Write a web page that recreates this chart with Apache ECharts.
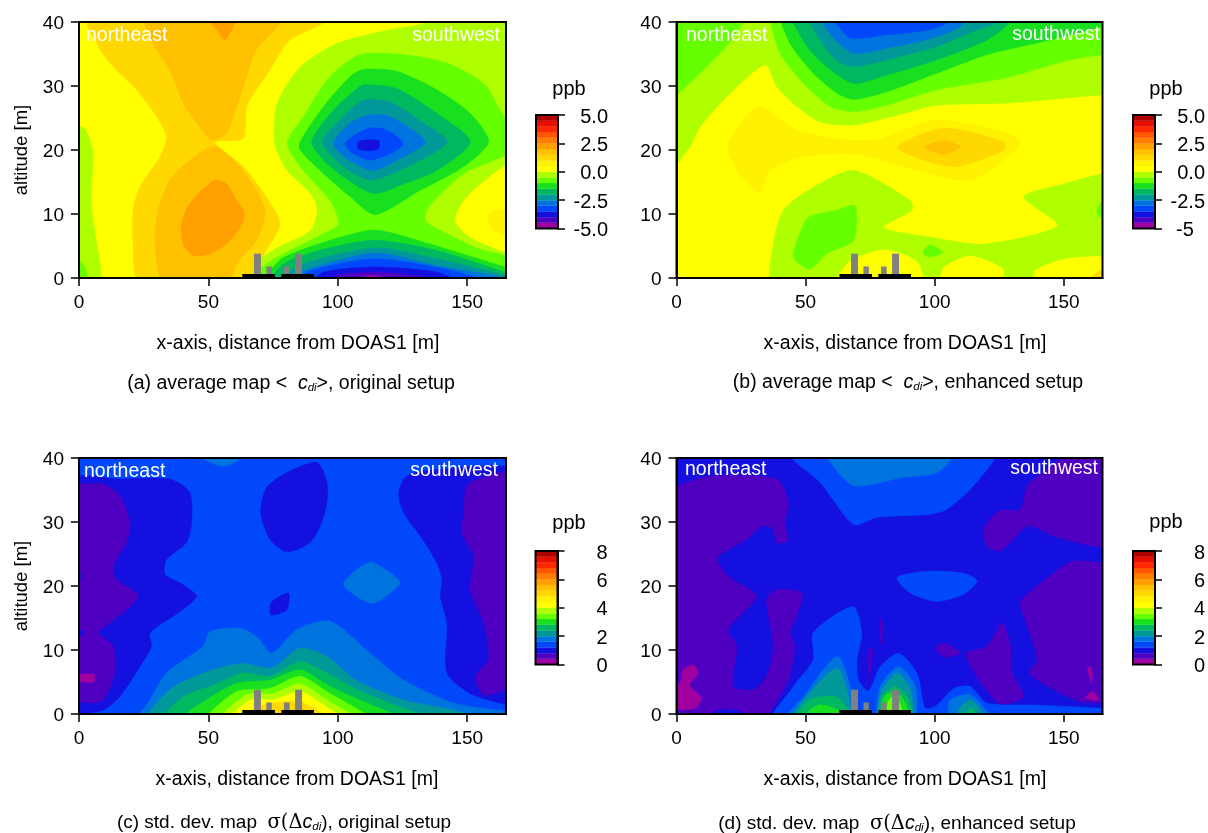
<!DOCTYPE html>
<html><head><meta charset="utf-8">
<style>html,body{margin:0;padding:0;background:#fff}#c{width:1208px;height:833px}</style>
<script src="https://cdn.jsdelivr.net/npm/echarts@6/dist/echarts.min.js"></script></head>
<body><div id="c"></div>
<script>
const palette = ['#a000a0','#5000c0','#1410e0','#0048fa','#0074de','#009898','#00b860','#18e020','#66ff00','#b0ff00','#ffff00','#fff200','#ffd800','#ffc000','#ffa000','#ff8000','#ff5800','#ff2800','#e81000','#b00000'];
const xTicks = [0,50,100,150];
const yTicks = [0,10,20,30,40];
const avgTicks = [-5,-2.5,0,2.5,5];
const avgLabelsA = ['-5.0','-2.5','0.0','2.5','5.0'];
const avgLabelsB = ['-5\u00A0\u00A0','-2.5','0.0','2.5','5.0'];
const stdTicks = [0,2,4,6,8];
const stdLabels = ['0','2','4','6','8'];
const buildingBases = [[63.1,75.7,0.63],[78.2,90.8,0.63]];
const buildingStacks = [[67.6,70.3,3.8],[72.4,74.5,1.8],[79.2,81.4,1.8],[83.5,86.2,3.8]];

// each contour band: [lower level of the band (ppb), outline as [x m, altitude m]]
const mapA = [
[-0.5,[[-3,-3],[170,-3],[170,43],[-3,43]]],
[0,[[-3,43],[-3,24.8],[2.8,23.1],[5.7,19.4],[4.8,12.7],[6.1,7.9],[8,3.2],[10.8,-1],[59.6,-1],[68.6,2.7],[79,5.3],[89.3,7.4],[91.9,10.6],[89.3,13.2],[80.3,16.8],[75.4,21],[76.4,27.3],[85.4,33],[99.6,36.7],[119,38.8],[138.3,40.4],[138,43]]],
[-1,[[-3,3.5],[2.2,1.7],[3.1,-1],[-3,-1]]],
[1,[[1.5,43],[7.4,36.2],[13.2,33],[22.2,29.4],[30,25.2],[33.8,22],[31.2,18.9],[23.5,14.2],[20.9,10.6],[20.9,5.3],[23.5,-1],[62.2,-1],[73.8,5.3],[77.7,8.5],[72.5,12.6],[63.5,17.4],[52.5,21.2],[63.5,21.8],[64.8,26.8],[73.8,32.5],[81.5,37.2],[95.7,40.2],[95,43]]],
[1.5,[[25,43],[26,38.8],[30,35.7],[35.1,32.5],[40.3,27.3],[46.7,23.6],[51.2,21.5],[57,22.6],[59.6,25.2],[64.8,31.5],[68.6,35.7],[79,40.4],[79,43]]],
[1.5,[[52.5,20.6],[62.2,17.4],[70,12.7],[71.9,10],[68.6,5.9],[60.9,2.2],[57,-1],[33,-1],[29.3,5.3],[30.6,10.6],[35.1,15.3],[42.8,18.4]]],
[2,[[51.9,15.2],[57,14.7],[60.9,12.1],[64.1,10],[62.2,7.9],[57,5.3],[50.6,3.8],[44.1,3.5],[40.3,5.3],[39.6,8.5],[42.8,11.6]]],
[2,[[50,43],[49.9,40.5],[53.2,38.8],[56.4,37.2],[60.9,40.5],[61,43]]],
[0,[[170,17.6],[165,17.6],[150,12.7],[145.4,9],[151.2,6.4],[165,4],[170,4]]],
[0.5,[[170,11],[158,10],[160,7.5],[170,6.5]]],
[-1,[[170,20.6],[162.8,26.2],[156.4,30.4],[142.2,33.6],[125.4,34.9],[108.6,34.9],[97,31.5],[86.7,25.2],[80.5,21],[86.7,16.8],[97,12.1],[100.3,8.5],[94.5,6.9],[79,3.8],[72.5,2.2],[64.8,-1],[170,-1],[170,2.7],[155,4.5],[142.2,6.9],[133.8,9],[135.1,11.1],[148.6,16.3]]],
[-1.5,[[85.4,21.3],[94.5,26.8],[104.8,31.5],[110,32.6],[122.8,32.3],[138.3,29.4],[151.2,25.7],[158.3,21.3],[148.6,17.4],[131.9,13.7],[114.5,9.9],[104.8,12.7],[94.5,16.3],[85.4,20]]],
[-2,[[89.9,21.3],[98.3,26.2],[107.4,29.6],[110,30.2],[122.8,29.6],[138.3,25.7],[151.2,21.3],[138.3,16.8],[125.4,14.7],[113.8,13.2],[102.2,15.8],[94.5,18.4]]],
[-2.5,[[94.2,21.3],[102.2,25.2],[110,27.8],[120.3,27.5],[133.2,24.2],[142.2,21.3],[131.9,18.4],[113.2,15.3],[102.2,17.4]]],
[-3,[[98.3,21],[104.8,24.2],[112.5,25.5],[120.3,25.2],[133.8,21.3],[122.8,18.4],[113.2,16.8],[103.5,18.7]]],
[-3.5,[[102.8,21],[108.6,22.8],[113.2,23.5],[119,23.1],[125.4,21],[120.3,19.4],[112.5,18.4],[106,19.4]]],
[-4,[[108,21.3],[115.7,21.5],[115.7,20.2],[111.9,19.9],[108,20.2]]],
[-1.5,[[68.6,-1],[72.5,0.6],[79,3.2],[97,5.9],[114.5,7.5],[135.7,5.3],[165,1.7],[170,1.4],[170,-1]]],
[-2,[[74,-1],[79,2.2],[94.5,4.5],[114.5,5.9],[138.3,4.3],[165,0.9],[170,0.6],[170,-1]]],
[-2.5,[[76.4,-1],[86.7,2.2],[114.5,4.7],[138.3,3],[165,0.4],[170,0],[170,-1]]],
[-3,[[79,-1],[86.7,1.1],[114.5,3.9],[138.3,1.9],[164,0],[164,-1]]],
[-3.5,[[82.8,-1],[89.3,1.1],[114.5,3],[144.8,1.1],[159,-1]]],
[-4,[[89.3,-1],[94.5,0.9],[114.5,1.7],[138.3,0.9],[148.6,-1]]],
[-4.5,[[94.5,-1],[99.6,0.4],[114.5,0.9],[135.7,0],[136,-1]]],
[-5,[[103.5,-1],[112.5,0.4],[125.4,-1]]]
];
const mapB = [
[0,[[-3,-3],[170,-3],[170,43],[-3,43]]],
[0.5,[[20,21],[32.3,26.8],[46.6,23.1],[75,21.5],[100.9,24.7],[133.2,21.5],[113.8,15.3],[88,17.4],[68.6,19.4],[49.2,18.9],[36.2,16.8],[32.3,13.2],[23.3,16.8]]],
[-0.5,[[-3,17],[5.2,20.5],[9.1,23.6],[19.4,28.3],[34.3,33.3],[38.8,29.9],[46.6,26.8],[55.6,24.4],[68.6,23.9],[88,25.7],[100.9,27],[126.8,27.3],[165,28.6],[170,28.6],[170,43],[-3,43]]],
[-1,[[-3,28.1],[7.8,31.5],[16.8,35.1],[21.3,37.2],[26.5,40.5],[26,43],[-3,43]]],
[-1,[[36.2,40.5],[40.1,35.1],[49.2,30.4],[59.5,26.8],[68.6,26],[81.5,27],[100.9,29.4],[126.8,31.2],[152.6,34.1],[165.2,34.9],[170,35],[170,43],[36,43]]],
[-1.5,[[40.1,40.5],[44.6,36.2],[53,32],[62,28.9],[68.6,27.9],[81.5,29.1],[100.9,32],[120.3,34.9],[139.7,36.7],[165,39.3],[170,40],[170,43],[40,43]]],
[-2,[[44.6,40.5],[50.5,36.2],[58.2,33],[68.6,30.4],[81.5,31.7],[100.9,34.1],[120.3,37.2],[129.4,40.2],[129,43],[44,43]]],
[-2.5,[[51.7,40.2],[55.6,37.2],[62,34],[68.6,33],[81.5,34.1],[100.9,36.2],[116.4,38.8],[124.2,40],[124,43],[52,43]]],
[-3,[[56.3,40.2],[60.8,37.5],[68.6,35.1],[81.5,35.9],[100.9,37.7],[111.3,39.8],[111,43],[56,43]]],
[-3.5,[[61.5,40.2],[67.3,37.5],[81.5,38],[98.3,38.8],[104.8,40],[105,43],[61,43]]],
[-0.5,[[36.9,-1],[37.5,5.3],[41.4,10.6],[53,14.2],[68.6,16.8],[90.6,12.1],[91.2,10.6],[80.2,7.9],[98.3,6.4],[119,5.3],[147.5,8.2],[134.5,12.7],[150,14.7],[165,16.3],[170,16.3],[170,3.5],[165,3.5],[150,3],[138.4,1.1],[138.4,-1],[126.8,-1],[126.8,1.4],[113.8,3.5],[103.5,1.7],[100.9,-1],[97,-1],[93.1,2.7],[80.2,4.5],[67.3,2.7],[62.7,0.6],[59.5,-1]]],
[-1,[[51.1,9.5],[62.1,10.6],[69.2,11.3],[68.6,5.9],[58.2,3.8],[51.7,1.4],[45.3,3.2],[47.2,6.4]]],
[-1,[[98.3,5.2],[103.2,4],[97.7,3.3],[95.3,4]]],
[-1,[[170,11.9],[165,11.9],[162.8,10.5],[165,9.2],[170,9.2]]],
[1,[[85.4,20.5],[103.5,23.4],[126.8,21.3],[126.8,20],[108.6,17.4],[95.7,18.4]]],
[1.5,[[95.7,20.5],[103.5,21.4],[110,20.5],[103.5,19.3]]],
[1,[[165,1.4],[170,1.4],[170,-1],[158,-1]]]
];
const mapC = [
[1.2,[[-3,-3],[170,-3],[170,43],[-3,43]]],
[0.8,[[-3,36.5],[15.7,36.7],[35.1,36.7],[42.8,34.6],[43.5,29.9],[41.5,26.8],[33.8,24.1],[33.2,21.8],[39,20.5],[45.4,18.4],[39,16],[27.4,12.7],[28,10.6],[23.5,7.4],[15.7,2.7],[9.3,0.6],[0,0.1],[-3,0]]],
[0.4,[[-3,36.2],[0,36],[9.3,35.9],[15.7,34.1],[19.6,29.9],[18.3,26.8],[13.8,23.6],[13.8,21.3],[22.8,18.4],[11.9,14.2],[7.4,12.7],[13.2,10.6],[13.8,6.4],[9.3,2.2],[4.1,1.7],[0,1.9],[-3,1.9]]],
[0.8,[[-2,23.5],[0.8,21.5],[-2,19.9]]],
[0.8,[[-2,13.5],[2,12.7],[-2,11.8]]],
[0,[[-2,6],[5.7,6.2],[5.7,5],[-2,5.3]]],
[0.8,[[91.9,39.3],[95.8,36.2],[95.8,33],[93.2,29.4],[89.3,26.8],[80.3,25.3],[73.8,27.3],[70.2,31.5],[72.5,35.4],[80.3,37.7]]],
[0.8,[[80.9,18.9],[80.3,16.3],[74.2,15.5],[74.2,17.4]]],
[0.8,[[170,37.5],[138.3,38.2],[126.7,37.2],[123.5,34.6],[125.4,31.5],[131.9,27.8],[138.3,23.6],[140.3,21],[139.7,18.4],[142.2,14.2],[142.2,6.4],[151.2,3.2],[162.8,1.7],[170,1.5]]],
[0.4,[[170,37.7],[160.3,37.5],[150,35.7],[148.7,31.5],[148,28.3],[152.5,24.7],[151.2,19.4],[156.4,14.2],[158.3,8.5],[153.2,5.9],[156.4,3],[165,3.8],[170,3.8]]],
[1.6,[[46,40.5],[55.7,38.7],[64.1,40.5],[64,43],[46,43]]],
[1.6,[[113.2,23.7],[123.5,21],[123.5,20],[113.2,17.3],[102.2,20.2],[107.4,22.6]]],
[1.6,[[22.2,-1],[26.7,1.7],[33.8,6.4],[48,10.6],[50.6,12.9],[62.2,13.4],[68.6,12.1],[74.5,9.5],[84.1,13.2],[97,14.5],[112.5,9.5],[125.4,5.3],[144.8,1.7],[165,0.4],[170,0.2],[170,-1]]],
[2,[[26.7,-1],[35.1,3.8],[48,6.4],[62.8,7.9],[74.5,7.2],[85.4,10.3],[95.8,9],[106.9,5.3],[125.4,2.2],[144.8,0.6],[157.7,-1]]],
[2.4,[[32.5,-1],[40.3,2.7],[51.9,4.5],[63.5,6.4],[73.8,5.9],[85.4,8.2],[95.8,6.4],[107.4,3.8],[125.4,0.9],[138.3,-1]]],
[2.8,[[39,-1],[48,1.9],[60.9,4.8],[73.8,5.3],[85.4,6.9],[97,4.3],[110,1.9],[125.4,-1]]],
[3.2,[[49.3,-1],[60.9,3.5],[73.8,4],[85.4,5.9],[95.8,3.5],[112.5,-1]]],
[3.6,[[54.5,-1],[64.8,3],[75.1,3.2],[85.4,4.7],[95.8,2.2],[107.4,-1]]],
[4,[[58.3,-1],[66,2.2],[75.1,2.2],[85.4,3.5],[94.5,1.4],[102.2,-1]]],
[4.8,[[62.2,-1],[71.2,1.4],[85.4,1.9],[97,-1]]],
[5.2,[[75,-1],[85.4,0.9],[91,-1]]]
];
const mapD = [
[0.8,[[-3,-3],[170,-3],[170,43],[-3,43]]],
[1.2,[[43.3,40.5],[55.6,36.2],[68.6,29.6],[77.6,30.7],[98.3,31.2],[104.8,32],[113.8,35.1],[124.2,40.5],[124,43],[43,43]]],
[1.6,[[57.6,40.5],[68.6,35.7],[88,37],[100.9,37.7],[107.4,40.5],[107,43],[57,43]]],
[1.2,[[85.4,21.3],[97,22.3],[111.2,22],[116.4,20.8],[111.2,18.7],[100.9,17.6],[90.6,18.9]]],
[1.2,[[37.5,-1],[45.3,4.3],[53,8.5],[53,12.7],[68.3,16.8],[71.8,12.7],[69.9,8.5],[70.5,5.3],[74.4,3.6],[78.9,7.4],[86,9.5],[93.1,6.4],[96.4,0.9],[100.9,1.4],[107.4,4],[113.8,4.3],[120.3,1.7],[139.7,1.4],[165,0.9],[170,0.9],[170,-1]]],
[1.6,[[42,-1],[49.2,2.7],[62.1,9],[67.3,4.3],[68,-1]]],
[1.6,[[78.3,-1],[78.9,4.3],[86,7.4],[92.5,4.3],[91.9,-1]]],
[1.6,[[106,-1],[106.1,2.2],[113.8,3],[120,0.5],[122,-1]]],
[2,[[45,-1],[49.2,2.2],[62.1,7.2],[66.6,2.7],[66.6,-1]]],
[2,[[78.9,-1],[79,3.2],[85.4,6.4],[90.6,3.8],[91,-1]]],
[2,[[108,-1],[110,1.1],[113.8,2.2],[118,0.6],[119,-1]]],
[2.4,[[45.3,-1],[51.7,2.2],[62.1,2.7],[66.6,0.2],[66.6,-1]]],
[2.4,[[79,-1],[79.5,2.7],[85,4.3],[90,2.2],[91,-1]]],
[2.4,[[112,-1],[114,1],[117,-1]]],
[2.8,[[48,-1],[55,1.4],[63,0.5],[63,-1]]],
[2.8,[[80,-1],[80.5,2.7],[85,3.5],[89,1.5],[90,-1]]],
[3.2,[[81,-1],[82,2],[85,3],[87,1],[88,-1]]],
[0.4,[[-3,36],[0,35.7],[12.9,37.2],[38.8,36.7],[43.3,33],[42,29.9],[43,27],[38.8,26.8],[37.5,28.9],[33.6,29.4],[27.2,27.3],[16.2,24.7],[16.2,23.6],[20.7,21.3],[31,18.4],[20,13.2],[23.3,10.6],[22,4.3],[29.8,3.8],[34.9,5.9],[37.5,10.6],[34.9,17.9],[38.8,19.4],[48.5,18.9],[46.6,15.3],[44,12.7],[45.9,10.6],[43.3,5.3],[37.5,1.1],[33.6,-1],[-3,-1]]],
[0.8,[[12,-1],[16,0.6],[24,0.5],[28,-1]]],
[0,[[6.5,7.7],[8.4,6.4],[5.2,4.5],[9.7,2.5],[7.1,0.9],[0,0.9],[-1,3.8],[1.9,5.3],[2.6,6.9]]],
[0.4,[[170,27],[165,26],[146,27.8],[136.3,29.4],[129.4,26.8],[125.3,25.5],[120.3,26.2],[119,28.9],[124.8,31.7],[133.2,32],[135.8,35.7],[143.6,38.3],[150,40.5],[150,43],[170,43]]],
[0.4,[[170,23.6],[165,23.6],[153.9,23.9],[148.1,22.6],[133.2,17.6],[134.5,15.3],[139.7,8.5],[136.5,6.4],[146.2,3.8],[156.5,1.9],[165,1.7],[170,1.7]]],
[0.4,[[126.1,14.2],[129.4,10.6],[130,6.4],[134.5,2.7],[124.8,1.7],[111.9,9.3],[120.3,10.6]]],
[0.4,[[103.5,11.1],[110,9.5],[103.5,8.9],[100.3,10.3]]],
[0.4,[[74.5,10],[76,10.2],[74.5,5.2]]],
[0.4,[[79,15],[80,14],[79.5,10.8],[79,10.8]]],
[0,[[159.2,7.2],[160.8,7.2],[160.8,4.8]]],
[0,[[158.5,2.5],[161,3.5],[163.6,2.2]]]
];

const panels = [
 {map:mapA,left:79,top:22,min:-5,max:5,cbLeft:536,cbTop:115,ticks:avgTicks,labels:avgLabelsA,yName:true,title:298},
 {map:mapB,left:676.5,top:22,min:-5,max:5,cbLeft:1133,cbTop:115,ticks:avgTicks,labels:avgLabelsB,yName:false,title:905},
 {map:mapC,left:79,top:458,min:0,max:8,cbLeft:535.5,cbTop:551,ticks:stdTicks,labels:stdLabels,yName:true,title:297},
 {map:mapD,left:676.5,top:458,min:0,max:8,cbLeft:1133,cbTop:551,ticks:stdTicks,labels:stdLabels,yName:false,title:905}
];
const FONT = '"Liberation Sans", Arial, sans-serif';
const grid=[],xAxis=[],yAxis=[],series=[];
panels.forEach((p,i)=>{
  const g=grid.length, width=p.left<100?427:426;
  grid.push({left:p.left,top:p.top,width:width,height:256,show:true,z:10,borderColor:'#000',borderWidth:2,backgroundColor:'transparent'});
  xAxis.push({type:'value',gridIndex:g,min:0,max:165,z:11,
    name:'x-axis, distance from DOAS1 [m]',nameLocation:'middle',nameGap:56,
    nameTextStyle:{fontFamily:FONT,fontSize:19.5,color:'#000',padding:[0,0,0,(p.title-(p.left+width/2))*2]},
    axisLine:{show:true,onZero:false,lineStyle:{color:'#000',width:2}},
    axisTick:{show:true,length:8,customValues:xTicks,lineStyle:{color:'#000',width:1.5}},
    axisLabel:{customValues:xTicks,margin:15,fontFamily:FONT,fontSize:19,color:'#000'},splitLine:{show:false}});
  yAxis.push({type:'value',gridIndex:g,min:0,max:40,interval:10,z:11,
    name:p.yName?'altitude [m]':'',nameLocation:'middle',nameGap:48,
    nameTextStyle:{fontFamily:FONT,fontSize:18.5,color:'#000'},
    axisLine:{show:true,onZero:false,lineStyle:{color:'#000',width:2}},
    axisTick:{show:true,length:8,customValues:yTicks,lineStyle:{color:'#000',width:1.5}},
    axisLabel:{customValues:yTicks,margin:15,fontFamily:FONT,fontSize:19,color:'#000',
      formatter:v=>'{v|'+v+'}',rich:{v:{fontFamily:FONT,fontSize:19,color:'#000',padding:[3,0,0,0]}}},splitLine:{show:false}});
  const w=(p.max-p.min)/palette.length;
  const colorOf=l=>palette[Math.min(palette.length-1,Math.max(0,Math.floor((l-p.min)/w+1e-6)))];
  series.push({type:'custom',name:'contours'+i,coordinateSystem:'cartesian2d',xAxisIndex:g,yAxisIndex:g,clip:true,silent:true,z:2,
    data:p.map.map(b=>[b[1][0][0],b[1][0][1],b[0]]),encode:{x:0,y:1},
    renderItem:(params,api)=>{const b=p.map[params.dataIndex];
      return {type:'polygon',shape:{points:b[1].map(q=>api.coord(q)),smooth:0.25},style:{fill:colorOf(b[0]),stroke:colorOf(b[0]),lineWidth:0.5}};}});
  const rectSeries=(arr,color,name,zz)=>({type:'custom',name:name+i,coordinateSystem:'cartesian2d',xAxisIndex:g,yAxisIndex:g,clip:true,silent:true,z:zz,
    data:arr.map(b=>[b[0],b[1],b[2]]),encode:{x:[0,1],y:2},
    renderItem:(params,api)=>{const a=api.coord([api.value(0),api.value(2)]),c=api.coord([api.value(1),0]);
      return {type:'rect',shape:{x:a[0],y:a[1],width:c[0]-a[0],height:c[1]-a[1]},style:{fill:color}};}});
  series.push(rectSeries(buildingStacks,'#808080','stacks',3));
  series.push(rectSeries(buildingBases,'#000','bases',4));
  // colour bar
  const cb=grid.length;
  grid.push({left:p.cbLeft,top:p.cbTop,width:22,height:113.5,show:true,z:10,borderColor:'#000',borderWidth:2,backgroundColor:'transparent'});
  xAxis.push({type:'value',gridIndex:cb,min:0,max:1,show:false});
  yAxis.push({type:'value',gridIndex:cb,position:'right',min:p.min,max:p.max,z:11,
    axisLine:{show:true,onZero:false,lineStyle:{color:'#000',width:2}},
    axisTick:{show:true,length:7,customValues:p.ticks,lineStyle:{color:'#000',width:1.5}},
    axisLabel:{customValues:p.ticks,align:'right',margin:50,fontFamily:FONT,fontSize:20,color:'#000',
      formatter:v=>'{v|'+p.labels[p.ticks.indexOf(v)]+'}',rich:{v:{fontFamily:FONT,fontSize:20,color:'#000',padding:[4,0,0,0]}}},splitLine:{show:false}});
  series.push({type:'custom',name:'scale'+i,coordinateSystem:'cartesian2d',xAxisIndex:cb,yAxisIndex:cb,clip:true,silent:true,z:2,
    data:palette.map((c,k)=>[0,p.min+k*w]),encode:{x:0,y:1},
    renderItem:(params,api)=>{const a=api.coord([0,api.value(1)+w]),c=api.coord([1,api.value(1)]);
      return {type:'rect',shape:{x:a[0],y:a[1],width:c[0]-a[0],height:c[1]-a[1]},style:{fill:palette[params.dataIndex],stroke:palette[params.dataIndex],lineWidth:0.3}};}});
});
const txt=(t,x,y,size,fill,align,extra)=>({type:'text',z:100,x:x,y:y,silent:true,style:Object.assign({text:t,fill:fill,font:size+'px '+FONT,align:align,verticalAlign:'middle'},extra||{})});
const cRich={c:{font:'italic 19.5px '+FONT,fill:'#000',verticalAlign:'middle'},d:{font:'italic 11.5px '+FONT,fill:'#000',verticalAlign:'bottom',padding:[6,0,0,0]},s:{font:'19.5px "DejaVu Serif"',fill:'#000'}};
const graphic=[
 txt('northeast',86,36,19.5,'#fff','left'),txt('southwest',500,36,19.5,'#fff','right'),
 txt('northeast',686,36,19.5,'#fff','left'),txt('southwest',1100,35,19.5,'#fff','right'),
 txt('northeast',84,472,19.5,'#fff','left'),txt('southwest',498,471,19.5,'#fff','right'),
 txt('northeast',685,470,19.5,'#fff','left'),txt('southwest',1098,469,19.5,'#fff','right'),
 txt('ppb',569,89,20,'#000','center'),txt('ppb',1166,89,20,'#000','center'),
 txt('ppb',569,523,20,'#000','center'),txt('ppb',1166,522,20,'#000','center'),
 txt('(a) average map <  {c|c}{d|di}>, original setup',291,383.5,19.5,'#000','center',{rich:cRich}),
 txt('(b) average map <  {c|c}{d|di}>, enhanced setup',908,382.5,19.5,'#000','center',{rich:cRich}),
 txt('(c) std. dev. map  {s|\u03C3(\u0394}{c|c}{d|di}), original setup',284,823,19,'#000','center',{rich:cRich}),
 txt('(d) std. dev. map  {s|\u03C3(\u0394}{c|c}{d|di}), enhanced setup',897,824,19,'#000','center',{rich:cRich})
];
echarts.init(document.getElementById('c'),null,{renderer:'canvas'}).setOption({animation:false,backgroundColor:'#fff',grid,xAxis,yAxis,series,graphic});
</script></body></html>
